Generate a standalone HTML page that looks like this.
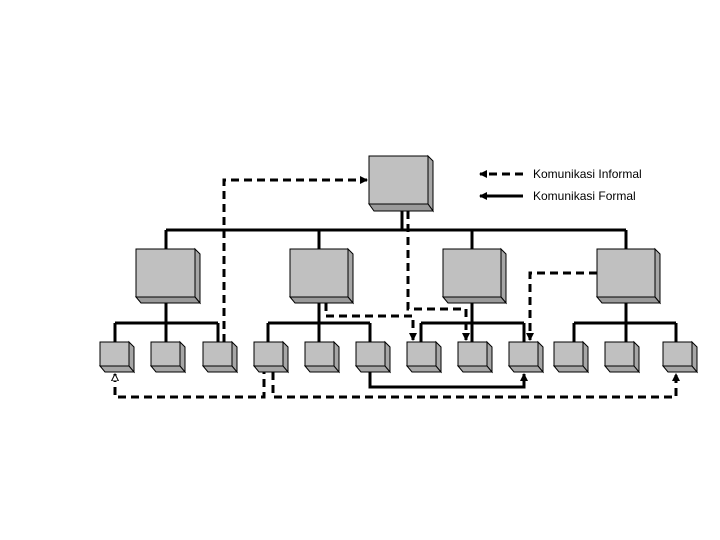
<!DOCTYPE html>
<html><head><meta charset="utf-8"><style>html,body{margin:0;padding:0;background:#fff}svg{display:block}</style></head>
<body>
<svg width="720" height="540" xmlns="http://www.w3.org/2000/svg">
<defs>
<marker id="a" markerWidth="8" markerHeight="8" refX="7" refY="4" orient="auto" markerUnits="userSpaceOnUse"><path d="M0,0 L8,4 L0,8 Z" fill="#000"/></marker>
<marker id="h" markerWidth="8" markerHeight="8" refX="7" refY="4" orient="auto" markerUnits="userSpaceOnUse"><path d="M0,0.5 L7,4 L0,7.5 Z" fill="#fff" stroke="#000" stroke-width="1"/></marker>
</defs>
<g stroke="#000" stroke-width="3" fill="none">
<!-- formal structure -->
<path d="M402,211 V230 M166,230 H626 M166,230 V249 M319,230 V249 M472,230 V249 M626,230 V249"/>
<path d="M166,303 V342 M115,323 H218 M115,323 V342 M166,323 V342 M218,323 V342"/>
<path d="M319,303 V342 M268,323 H370 M268,323 V342 M370,323 V342"/>
<path d="M472,303 V342 M421,323 H524 M421,323 V342 M524,323 V342"/>
<path d="M626,303 V342 M574,323 H676 M574,323 V342 M676,323 V342"/>
<path d="M370,372 V387 H524 V374" marker-end="url(#a)"/>
</g>
<g stroke="#000" stroke-width="3" fill="none" stroke-dasharray="8,5">
<path d="M224,342 V180 H367" marker-end="url(#a)"/>
<path d="M408,211 V309 H466 V340" marker-end="url(#a)"/>
<path d="M326,303 V316 H413 V340" marker-end="url(#a)"/>
<path d="M597,273 H530 V340" marker-end="url(#a)"/>
<path d="M264,366 V397 H115 V374" marker-end="url(#h)"/>
<path d="M273,372 V397 H676 V374" marker-end="url(#a)"/>
<path d="M523,174 H480" marker-end="url(#a)"/>
</g>
<path d="M523,196 H480" stroke="#000" stroke-width="3" marker-end="url(#a)"/>
<g font-family="Liberation Sans, sans-serif" font-size="12" fill="#000">
<text x="533" y="178">Komunikasi Informal</text>
<text x="533" y="200">Komunikasi Formal</text>
</g>
<g stroke="#000" stroke-width="1">
<!-- boxes: front x,y,w,h with depth d -->
<g id="boxes">
</g>
</g>
<g stroke="#000" stroke-width="1">
<!-- top -->
<path d="M428,156 L433,161 L433,211 L428,204 Z" fill="#a6a6a6"/><path d="M369,204 L428,204 L433,211 L374,211 Z" fill="#9a9a9a"/><rect x="369" y="156" width="59" height="48" fill="#c0c0c0"/>
<!-- mid -->
<path d="M195,249 L200,254 L200,303 L195,297 Z" fill="#a6a6a6"/><path d="M136,297 L195,297 L200,303 L141,303 Z" fill="#9a9a9a"/><rect x="136" y="249" width="59" height="48" fill="#c0c0c0"/>
<path d="M348,249 L353,254 L353,303 L348,297 Z" fill="#a6a6a6"/><path d="M290,297 L348,297 L353,303 L295,303 Z" fill="#9a9a9a"/><rect x="290" y="249" width="58" height="48" fill="#c0c0c0"/>
<path d="M501,249 L506,254 L506,303 L501,297 Z" fill="#a6a6a6"/><path d="M443,297 L501,297 L506,303 L448,303 Z" fill="#9a9a9a"/><rect x="443" y="249" width="58" height="48" fill="#c0c0c0"/>
<path d="M655,249 L660,254 L660,303 L655,297 Z" fill="#a6a6a6"/><path d="M597,297 L655,297 L660,303 L602,303 Z" fill="#9a9a9a"/><rect x="597" y="249" width="58" height="48" fill="#c0c0c0"/>
</g>
<g stroke="#000" stroke-width="1" id="small">
<path d="M129,342 L134,347 L134,372 L129,366 Z M100,366 L129,366 L134,372 L105,372 Z" fill="#a6a6a6"/><rect x="100" y="342" width="29" height="24" fill="#c0c0c0"/>
<path d="M180,342 L185,347 L185,372 L180,366 Z M151,366 L180,366 L185,372 L156,372 Z" fill="#a6a6a6"/><rect x="151" y="342" width="29" height="24" fill="#c0c0c0"/>
<path d="M232,342 L237,347 L237,372 L232,366 Z M203,366 L232,366 L237,372 L208,372 Z" fill="#a6a6a6"/><rect x="203" y="342" width="29" height="24" fill="#c0c0c0"/>
<path d="M283,342 L288,347 L288,372 L283,366 Z M254,366 L283,366 L288,372 L259,372 Z" fill="#a6a6a6"/><rect x="254" y="342" width="29" height="24" fill="#c0c0c0"/>
<path d="M334,342 L339,347 L339,372 L334,366 Z M305,366 L334,366 L339,372 L310,372 Z" fill="#a6a6a6"/><rect x="305" y="342" width="29" height="24" fill="#c0c0c0"/>
<path d="M385,342 L390,347 L390,372 L385,366 Z M356,366 L385,366 L390,372 L361,372 Z" fill="#a6a6a6"/><rect x="356" y="342" width="29" height="24" fill="#c0c0c0"/>
<path d="M436,342 L441,347 L441,372 L436,366 Z M407,366 L436,366 L441,372 L412,372 Z" fill="#a6a6a6"/><rect x="407" y="342" width="29" height="24" fill="#c0c0c0"/>
<path d="M487,342 L492,347 L492,372 L487,366 Z M458,366 L487,366 L492,372 L463,372 Z" fill="#a6a6a6"/><rect x="458" y="342" width="29" height="24" fill="#c0c0c0"/>
<path d="M538,342 L543,347 L543,372 L538,366 Z M509,366 L538,366 L543,372 L514,372 Z" fill="#a6a6a6"/><rect x="509" y="342" width="29" height="24" fill="#c0c0c0"/>
<path d="M583,342 L588,347 L588,372 L583,366 Z M554,366 L583,366 L588,372 L559,372 Z" fill="#a6a6a6"/><rect x="554" y="342" width="29" height="24" fill="#c0c0c0"/>
<path d="M634,342 L639,347 L639,372 L634,366 Z M605,366 L634,366 L639,372 L610,372 Z" fill="#a6a6a6"/><rect x="605" y="342" width="29" height="24" fill="#c0c0c0"/>
<path d="M692,342 L697,347 L697,372 L692,366 Z M663,366 L692,366 L697,372 L668,372 Z" fill="#a6a6a6"/><rect x="663" y="342" width="29" height="24" fill="#c0c0c0"/>
</g>
</svg>
</body></html>
